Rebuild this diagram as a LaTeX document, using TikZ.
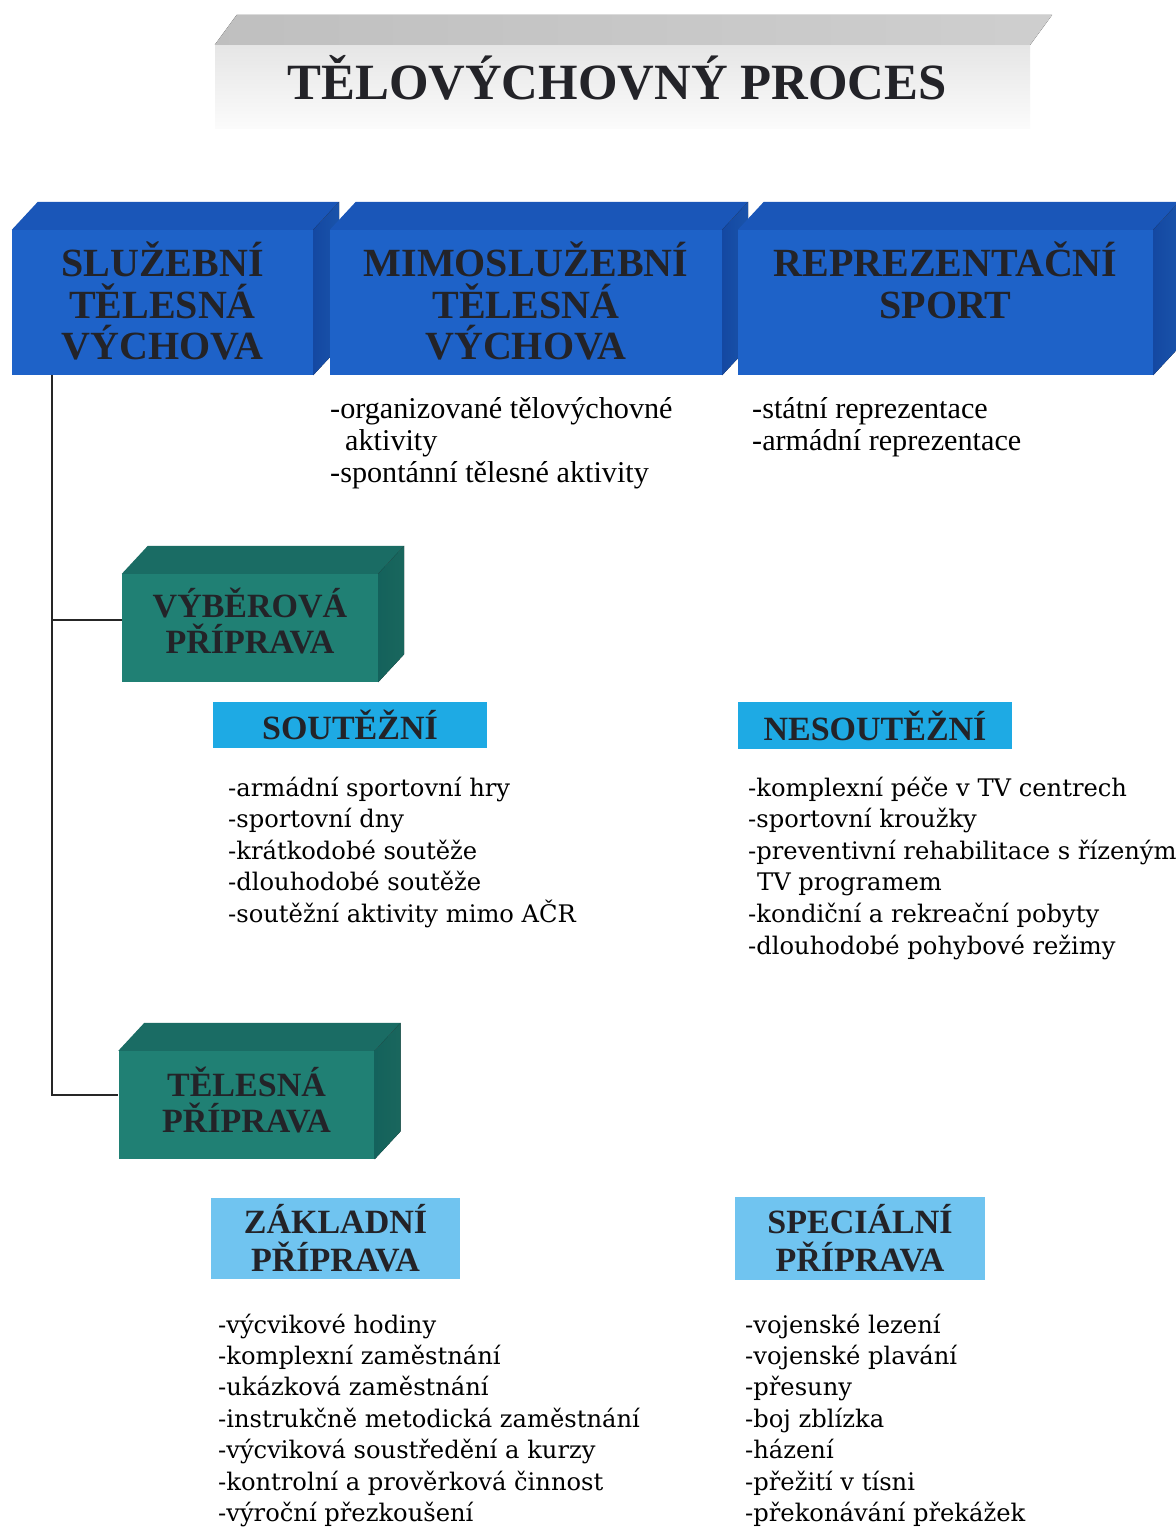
\documentclass[tikz,border=0pt]{standalone}
\usepackage{fontspec}
\setmainfont{Liberation Serif}
\newfontfamily\listfont{DejaVu Serif}
\usetikzlibrary{positioning,calc}

\definecolor{boxblue}{RGB}{30,98,200}
\definecolor{boxbluetop}{RGB}{26,86,184}
\definecolor{boxblueside}{RGB}{20,72,162}
\definecolor{tealfront}{RGB}{32,128,116}
\definecolor{tealtop}{RGB}{26,108,100}
\definecolor{tealside}{RGB}{20,98,92}
\definecolor{cyanbox}{RGB}{30,170,228}
\definecolor{skybox}{RGB}{112,196,240}
\definecolor{ink}{RGB}{35,35,40}

\tikzset{
  bluebox/.style={fill=boxblue, inner sep=0pt, minimum height=145pt},
  headline/.style={inner sep=0pt, align=center, text=ink, font=\bfseries\fontsize{40}{41.5}\selectfont},
  tealbox/.style={fill=tealfront, inner sep=0pt, minimum width=256pt, minimum height=108pt},
  tealtext/.style={inner sep=0pt, align=center, text=ink, font=\bfseries\fontsize{34}{36.5}\selectfont},
  flatbox/.style={inner sep=0pt, align=center, text=ink, font=\bfseries\fontsize{34}{38}\selectfont},
  conn/.style={line width=1.4pt, black!85},
  item/.style={anchor=base west, inner sep=0pt, font=\fontsize{30.2}{32}\selectfont},
  listitem/.style={anchor=base west, inner sep=0pt, font=\listfont\fontsize{24.2}{31}\selectfont}
}

% top and side face of a box drawn behind node #1
\newcommand\cuboid[3]{%
  \fill[#2] (#1.north west) -- ++(26,-28) -- ($(#1.north east)+(26,-28)$) -- (#1.north east) -- cycle;
  \fill[#3] (#1.north east) -- ++(26,-28) -- ($(#1.south east)+(26,-28)$) -- (#1.south east) -- cycle;
}

\begin{document}
\begin{tikzpicture}[x=1pt, y=-1pt]
  \useasboundingbox[fill=white] (0,0) rectangle (1176,1527);

  % title
  \node[top color=gray!20, bottom color=gray!3, inner sep=0pt, minimum width=815pt, minimum height=83pt] (title) at (622.5,86.5) {};
  \fill[left color=gray!50, right color=gray!38] (title.north west) -- ++(22,-30)
    -- ($(title.north east)+(22,-30)$) -- (title.north east) -- cycle;
  \node[inner sep=0pt, text=ink, font=\bfseries\fontsize{50.8}{52}\selectfont] (titleT) at (617,78) {TĚLOVÝCHOVNÝ PROCES};

  % blue boxes
  \node[bluebox, minimum width=301pt] (sluz) at (162.5,302.5) {};
  \cuboid{sluz}{boxbluetop}{left color=boxblueside, right color=boxblue!85!black}
  \node[bluebox, minimum width=392pt] (mimo) at (526,302.5) {};
  \cuboid{mimo}{boxbluetop}{left color=boxblueside, right color=boxblue!85!black}
  \node[bluebox, minimum width=415pt] (repr) at (945.5,302.5) {};
  \cuboid{repr}{boxbluetop}{left color=boxblueside, right color=boxblue!85!black}

  \node[headline, below=12pt of sluz.north] (sluzT) {SLUŽEBNÍ\\TĚLESNÁ\\VÝCHOVA};
  \node[headline, below=12pt of mimo.north] (mimoT) {MIMOSLUŽEBNÍ\\TĚLESNÁ\\VÝCHOVA};
  \node[headline, below=12pt of repr.north] (reprT) {REPREZENTAČNÍ\\SPORT};

  \foreach \txt [count=\i from 0] in {-organizované tělovýchovné, \hspace*{15pt}aktivity, -spontánní tělesné aktivity}
    \node[item] (mimo\i) at (330,{418+32*\i}) {\txt};
  \foreach \txt [count=\i from 0] in {-státní reprezentace, -armádní reprezentace}
    \node[item] (repr\i) at (752,{418+32*\i}) {\txt};

  % teal boxes
  \node[tealbox] (vyber) at (250,628) {};
  \cuboid{vyber}{tealtop}{left color=tealside, right color=tealfront!80!black}
  \node[tealtext] (vyberT) at ([yshift=7pt]vyber.center) {VÝBĚROVÁ\\PŘÍPRAVA};
  \node[tealbox] (telp) at (246.5,1105) {};
  \cuboid{telp}{tealtop}{left color=tealside, right color=tealfront!80!black}
  \node[tealtext] (telpT) at ([yshift=5pt]telp.center) {TĚLESNÁ\\PŘÍPRAVA};

  \coordinate (trunk) at ([xshift=40pt]sluz.south west);
  \coordinate (vyberIn) at ([yshift=8pt]vyber.west);
  \coordinate (telpIn) at ([yshift=10pt]telp.west);
  \draw[conn] (trunk) |- (telpIn);
  \draw[conn] (trunk |- vyberIn) -- (vyberIn);

  % competition
  \node[flatbox, fill=cyanbox, minimum width=274pt, minimum height=46pt] (sout) at (350,725) {SOUTĚŽNÍ};
  \node[flatbox, fill=cyanbox, minimum width=274pt, minimum height=47pt] (nesout) at (875,725.5) {NESOUTĚŽNÍ};
  \foreach \txt [count=\i from 0] in {-armádní sportovní hry, -sportovní dny, -krátkodobé soutěže,
      -dlouhodobé soutěže, -soutěžní aktivity mimo AČR}
    \node[listitem] (sout\i) at (228,{796+31.6*\i}) {\txt};
  \foreach \txt [count=\i from 0] in {-komplexní péče v TV centrech, -sportovní kroužky,
      -preventivní rehabilitace s řízeným, \hspace*{9pt}TV programem,
      -kondiční a rekreační pobyty, -dlouhodobé pohybové režimy}
    \node[listitem] (nesout\i) at (748,{796+31.6*\i}) {\txt};

  % training
  \node[flatbox, fill=skybox, minimum width=249pt, minimum height=81pt] (zakl) at (335.5,1238.5) {ZÁKLADNÍ\\PŘÍPRAVA};
  \node[flatbox, fill=skybox, minimum width=250pt, minimum height=83pt] (spec) at (860,1238.5) {SPECIÁLNÍ\\PŘÍPRAVA};
  \foreach \txt [count=\i from 0] in {-výcvikové hodiny, -komplexní zaměstnání, -ukázková zaměstnání,
      -instrukčně metodická zaměstnání, -výcviková soustředění a kurzy,
      -kontrolní a prověrková činnost, -výroční přezkoušení}
    \node[listitem] (zakl\i) at (218,{1333+31.4*\i}) {\txt};
  \foreach \txt [count=\i from 0] in {-vojenské lezení, -vojenské plavání, -přesuny, -boj zblízka,
      -házení, -přežití v tísni, -překonávání překážek}
    \node[listitem] (spec\i) at (745,{1333+31.4*\i}) {\txt};
\end{tikzpicture}
\end{document}
